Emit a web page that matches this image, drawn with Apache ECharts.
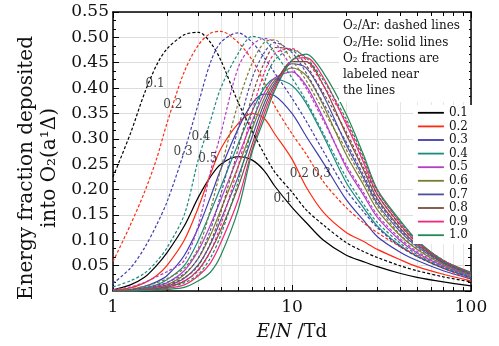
<!DOCTYPE html>
<html>
<head>
<meta charset="utf-8">
<script src="https://cdn.jsdelivr.net/npm/echarts@6/dist/echarts.min.js"></script>
<style>
  html, body { margin: 0; padding: 0; background: #fff; }
  #main { width: 499px; height: 346px; }
</style>
</head>
<body>
<div id="main"></div>
<script>
// O2 fractions (legend + colours)
const fractions = ['0.1', '0.2', '0.3', '0.4', '0.5', '0.6', '0.7', '0.8', '0.9', '1.0'];
const colors = ['#000000', '#ff2a10', '#3e3eae', '#1b8b80', '#b23ec6', '#7b7b33', '#4f4f9e', '#7d4b42', '#f5247e', '#1f8a55'];

// E/N in Td
const eN = [1, 1.25, 1.5, 1.75, 2, 2.5, 3, 3.5, 4, 5, 6, 7, 8, 10, 12, 15, 20, 25, 30, 40, 50, 70, 100];

// O2/He : solid lines
const he01 = [0.002, 0.012, 0.027, 0.05, 0.075, 0.128, 0.185, 0.225, 0.25, 0.265, 0.258, 0.237, 0.207, 0.165, 0.135, 0.1, 0.071, 0.058, 0.048, 0.035, 0.027, 0.018, 0.010];
const he02 = [0.001, 0.006, 0.016, 0.03, 0.05, 0.1, 0.165, 0.23, 0.28, 0.33, 0.35, 0.34, 0.31, 0.26, 0.205, 0.155, 0.116, 0.098, 0.082, 0.062, 0.048, 0.033, 0.020];
const he03 = [0, 0.003, 0.009, 0.018, 0.03, 0.07, 0.125, 0.185, 0.24, 0.32, 0.37, 0.388, 0.385, 0.35, 0.305, 0.252, 0.181, 0.14, 0.107, 0.077, 0.06, 0.04, 0.024];
const he04 = [0, 0.002, 0.006, 0.012, 0.022, 0.05, 0.1, 0.155, 0.205, 0.29, 0.355, 0.4, 0.418, 0.405, 0.37, 0.305, 0.215, 0.165, 0.128, 0.09, 0.068, 0.045, 0.027];
const he05 = [0, 0.001, 0.004, 0.009, 0.016, 0.04, 0.08, 0.13, 0.18, 0.265, 0.335, 0.39, 0.42, 0.432, 0.405, 0.34, 0.245, 0.19, 0.145, 0.1, 0.075, 0.049, 0.029];
const he06 = [0, 0.001, 0.003, 0.007, 0.012, 0.032, 0.065, 0.11, 0.16, 0.245, 0.32, 0.38, 0.415, 0.44, 0.425, 0.365, 0.27, 0.21, 0.16, 0.11, 0.082, 0.052, 0.031];
const he07 = [0, 0, 0.002, 0.005, 0.009, 0.025, 0.052, 0.092, 0.14, 0.225, 0.305, 0.37, 0.41, 0.448, 0.44, 0.385, 0.29, 0.225, 0.172, 0.118, 0.087, 0.055, 0.032];
const he08 = [0, 0, 0.001, 0.004, 0.007, 0.019, 0.042, 0.078, 0.12, 0.205, 0.29, 0.36, 0.405, 0.452, 0.452, 0.405, 0.31, 0.24, 0.182, 0.125, 0.091, 0.057, 0.034];
const he09 = [0, 0, 0.001, 0.003, 0.005, 0.012, 0.03, 0.055, 0.095, 0.18, 0.28, 0.35, 0.4, 0.455, 0.46, 0.42, 0.33, 0.255, 0.19, 0.132, 0.095, 0.059, 0.035];
const he10 = [0, 0, 0.001, 0.002, 0.003, 0.007, 0.02, 0.037, 0.07, 0.16, 0.275, 0.34, 0.395, 0.455, 0.467, 0.43, 0.35, 0.27, 0.2, 0.14, 0.1, 0.06, 0.037];

// O2/Ar : dashed lines
const ar01 = [0.225, 0.31, 0.39, 0.445, 0.477, 0.505, 0.51, 0.49, 0.455, 0.372, 0.315, 0.27, 0.235, 0.195, 0.16, 0.13, 0.096, 0.078, 0.066, 0.05, 0.04, 0.028, 0.018];
const ar02 = [0.058, 0.13, 0.195, 0.26, 0.33, 0.432, 0.485, 0.508, 0.512, 0.49, 0.455, 0.41, 0.365, 0.31, 0.27, 0.215, 0.165, 0.135, 0.115, 0.088, 0.07, 0.045, 0.023];
const ar03 = [0.015, 0.045, 0.085, 0.13, 0.175, 0.275, 0.37, 0.45, 0.49, 0.509, 0.49, 0.46, 0.43, 0.38, 0.335, 0.275, 0.2, 0.157, 0.125, 0.088, 0.068, 0.045, 0.026];
const ar04 = [0.008, 0.02, 0.035, 0.058, 0.085, 0.15, 0.26, 0.335, 0.4, 0.468, 0.502, 0.495, 0.47, 0.42, 0.375, 0.31, 0.225, 0.172, 0.135, 0.095, 0.072, 0.047, 0.029];
const ar05 = [0.003, 0.008, 0.017, 0.028, 0.038, 0.06, 0.13, 0.235, 0.31, 0.44, 0.485, 0.498, 0.49, 0.44, 0.4, 0.335, 0.25, 0.195, 0.15, 0.104, 0.078, 0.05, 0.031];
const ar06 = [0.001, 0.004, 0.009, 0.016, 0.024, 0.045, 0.085, 0.16, 0.24, 0.37, 0.45, 0.49, 0.495, 0.455, 0.415, 0.355, 0.28, 0.218, 0.168, 0.112, 0.084, 0.053, 0.032];
const ar07 = [0, 0.002, 0.006, 0.011, 0.017, 0.034, 0.065, 0.12, 0.19, 0.32, 0.42, 0.47, 0.49, 0.47, 0.43, 0.37, 0.295, 0.23, 0.178, 0.122, 0.09, 0.056, 0.033];
const ar08 = [0, 0.001, 0.004, 0.008, 0.012, 0.026, 0.05, 0.095, 0.155, 0.28, 0.385, 0.45, 0.48, 0.475, 0.445, 0.39, 0.315, 0.245, 0.19, 0.13, 0.095, 0.059, 0.035];
const ar09 = [0, 0.001, 0.003, 0.006, 0.009, 0.02, 0.04, 0.078, 0.13, 0.245, 0.355, 0.43, 0.468, 0.478, 0.455, 0.405, 0.335, 0.26, 0.198, 0.136, 0.098, 0.061, 0.036];
const ar10 = [0, 0.001, 0.002, 0.004, 0.007, 0.016, 0.033, 0.065, 0.11, 0.215, 0.325, 0.41, 0.455, 0.475, 0.46, 0.415, 0.34, 0.265, 0.197, 0.137, 0.098, 0.06, 0.036];

const heLines = [he01, he02, he03, he04, he05, he06, he07, he08, he09, he10];
const arLines = [ar01, ar02, ar03, ar04, ar05, ar06, ar07, ar08, ar09, ar10];

// labels written near the curves
const labelText = ['0.1', '0.2', '0.3', '0.4', '0.5', '0.1', '0.2', '0.3'];
const labelX = [1.72, 2.16, 2.46, 3.1, 3.39, 8.9, 11.0, 14.6];
const labelY = [0.409, 0.367, 0.274, 0.303, 0.26, 0.181, 0.23, 0.23];

const serif = 'DejaVu Serif';
const myChart = echarts.init(document.getElementById('main'));

const series = [];
heLines.forEach(function (ys, i) {
  series.push({
    name: fractions[i],
    type: 'line',
    data: eN.map(function (x, k) { return [x, ys[k]]; }),
    symbol: 'none',
    smooth: 0.3,
    z: 3,
    lineStyle: { color: colors[i], width: 1.2 },
    itemStyle: { color: colors[i] }
  });
});
arLines.forEach(function (ys, i) {
  series.push({
    name: 'Ar ' + fractions[i],
    type: 'line',
    data: eN.map(function (x, k) { return [x, ys[k]]; }),
    symbol: 'none',
    smooth: 0.3,
    z: 3,
    lineStyle: { color: colors[i], width: 1.2, type: [3, 2] },
    itemStyle: { color: colors[i] }
  });
});
series.push({
  name: 'labels',
  type: 'scatter',
  symbolSize: 0,
  z: 5,
  data: labelX.map(function (x, k) { return [x, labelY[k], labelText[k]]; }),
  label: {
    show: true,
    position: 'inside',
    formatter: function (p) { return p.data[2]; },
    fontFamily: serif,
    fontSize: 12,
    color: '#111'
  },
  silent: true
});

const tickCommon = { inside: true, lineStyle: { color: '#000', width: 1 } };

myChart.setOption({
  backgroundColor: '#fff',
  animation: false,
  grid: { left: 113, top: 12, right: 28, bottom: 49 },
  legend: {
    data: fractions,
    orient: 'vertical',
    left: 413,
    top: 105,
    itemWidth: 26,
    itemHeight: 13.6,
    itemGap: 0,
    padding: [1, 4, 2, 4],
    backgroundColor: '#fff',
    itemStyle: { opacity: 0 },
    lineStyle: { width: 1.8 },
    textStyle: { fontFamily: serif, fontSize: 12, color: '#111', lineHeight: 13.6 }
  },
  xAxis: [
    {
      type: 'log', logBase: 10, min: 1, max: 100,
      name: '{i|E}/{i|N} /Td',
      nameLocation: 'middle',
      nameGap: 32,
      nameTextStyle: {
        fontFamily: serif, fontSize: 18, color: '#111',
        rich: { i: { fontFamily: serif, fontSize: 18, fontStyle: 'italic', color: '#111' } }
      },
      axisLine: { onZero: false, lineStyle: { color: '#000', width: 1.5 } },
      axisTick: Object.assign({ length: 6 }, tickCommon),
      minorTick: { show: true, splitNumber: 9, length: 4, lineStyle: { color: '#000' } },
      splitLine: { show: true, lineStyle: { color: '#dcdcdc', width: 1 } },
      minorSplitLine: { show: true, lineStyle: { color: '#e6e6e6', width: 1 } },
      axisLabel: { fontFamily: serif, fontSize: 17, color: '#111', margin: 8 }
    },
    {
      type: 'log', logBase: 10, min: 1, max: 100, position: 'top',
      axisLine: { onZero: false, lineStyle: { color: '#000', width: 1.5 } },
      axisTick: Object.assign({ length: 6 }, tickCommon),
      minorTick: { show: true, splitNumber: 9, length: 4, lineStyle: { color: '#000' } },
      splitLine: { show: false },
      axisLabel: { show: false }
    }
  ],
  yAxis: [
    {
      type: 'value', min: 0, max: 0.55, interval: 0.05,
      axisLine: { onZero: false, lineStyle: { color: '#000', width: 1.5 } },
      axisTick: Object.assign({ length: 6 }, tickCommon),
      minorTick: { show: true, splitNumber: 3, length: 3, lineStyle: { color: '#000' } },
      splitLine: { show: true, lineStyle: { color: '#dcdcdc', width: 1 } },
      axisLabel: {
        fontFamily: serif, fontSize: 17, color: '#111', margin: 4,
        formatter: function (v) { return v === 0 ? '0' : v.toFixed(2); }
      }
    },
    {
      type: 'value', min: 0, max: 0.55, interval: 0.05, position: 'right',
      axisLine: { show: true, onZero: false, lineStyle: { color: '#000', width: 1.5 } },
      axisTick: Object.assign({ length: 6 }, tickCommon),
      minorTick: { show: true, splitNumber: 3, length: 3, lineStyle: { color: '#000' } },
      splitLine: { show: false },
      axisLabel: { show: false }
    }
  ],
  graphic: [
    {
      type: 'text',
      x: 38, y: 168,
      rotation: Math.PI / 2,
      style: {
        text: 'Energy fraction deposited\ninto O\u2082(a\u00B9\u0394)',
        fontFamily: serif, fontSize: 20, lineHeight: 23,
        fill: '#111', align: 'center', verticalAlign: 'middle'
      }
    },
    {
      type: 'rect',
      shape: { x: 339, y: 16, width: 130, height: 86 },
      style: { fill: '#fff' },
      z: 10
    },
    {
      type: 'text',
      x: 343, y: 18,
      z: 11,
      style: {
        text: 'O\u2082/Ar: dashed lines\nO\u2082/He: solid lines\nO\u2082 fractions are\nlabeled near\nthe lines',
        fontFamily: serif, fontSize: 12, lineHeight: 16.3,
        fill: '#111', align: 'left', verticalAlign: 'top'
      }
    }
  ],
  series: series
});
</script>
</body>
</html>
